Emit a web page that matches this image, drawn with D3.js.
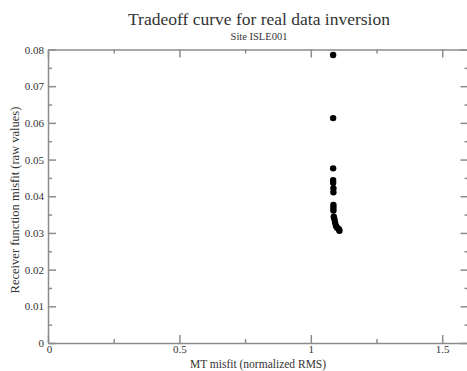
<!DOCTYPE html>
<html>
<head>
<meta charset="utf-8">
<script src="https://cdn.jsdelivr.net/npm/d3@7"></script>
<style>
  html, body { margin: 0; padding: 0; background: #fff; }
  svg { display: block; }
</style>
</head>
<body>
<svg id="chart" width="467" height="371"></svg>
<script>
// Tradeoff points: MT misfit (normalized RMS) vs receiver function misfit
const mtMisfit = [1.085, 1.085, 1.085, 1.085, 1.085, 1.086, 1.086, 1.086, 1.086, 1.086,
                  1.0875, 1.09, 1.0925, 1.096, 1.10, 1.107, 1.109];
const rfMisfit = [0.0785, 0.0613, 0.0476, 0.0444, 0.0437, 0.0422, 0.0411, 0.0376, 0.0369, 0.0361,
                  0.0344, 0.0337, 0.0328, 0.0319, 0.0314, 0.0310, 0.0306];
const xMajorTicks = [0, 0.5, 1, 1.5];
const xMinorTicks = [0.25, 0.75, 1.25];
const yMajorTicks = [0, 0.01, 0.02, 0.03, 0.04, 0.05, 0.06, 0.07, 0.08];
const yMinorTicks = [0.005, 0.015, 0.025, 0.035, 0.045, 0.055, 0.065, 0.075];

const serif = "'Liberation Serif', 'Times New Roman', Times, serif";
const svg = d3.select("#chart").attr("font-family", serif);
const plotLeft = 48, plotRight = 468.5, plotTop = 49.5, plotBottom = 343;
const axisColor = "#8c8c8c";
const textColor = "#333";

const x = d3.scaleLinear().domain([0, 1.6]).range([plotLeft, plotRight]);
const y = d3.scaleLinear().domain([0, 0.08]).range([plotBottom, plotTop]);

const fmt = d => (d === 0 ? "0" : String(d));

// Bottom axis, ticks pointing inward
const gx = svg.append("g").attr("transform", `translate(0,${plotBottom})`)
  .call(d3.axisBottom(x).tickValues(xMajorTicks).tickSizeInner(-8).tickSizeOuter(0).tickPadding(2).tickFormat(fmt));
gx.selectAll(".tick").filter(d => d === 0).select("text").attr("dx", 1);
const gxMinor = svg.append("g").attr("transform", `translate(0,${plotBottom})`)
  .call(d3.axisBottom(x).tickValues(xMinorTicks).tickSizeInner(-4).tickSizeOuter(0).tickFormat(""));
gxMinor.select(".domain").remove();

// Top axis
svg.append("g").attr("transform", `translate(0,${plotTop})`)
  .call(d3.axisTop(x).tickValues(xMajorTicks).tickSizeInner(-8).tickSizeOuter(0).tickFormat(""));
const gtMinor = svg.append("g").attr("transform", `translate(0,${plotTop})`)
  .call(d3.axisTop(x).tickValues(xMinorTicks).tickSizeInner(-4).tickSizeOuter(0).tickFormat(""));
gtMinor.select(".domain").remove();

// Left axis
svg.append("g").attr("transform", `translate(${plotLeft},0)`)
  .call(d3.axisLeft(y).tickValues(yMajorTicks).tickSizeInner(-8).tickSizeOuter(0).tickPadding(4).tickFormat(fmt));
const gyMinor = svg.append("g").attr("transform", `translate(${plotLeft},0)`)
  .call(d3.axisLeft(y).tickValues(yMinorTicks).tickSizeInner(-4).tickSizeOuter(0).tickFormat(""));
gyMinor.select(".domain").remove();

// Right axis
svg.append("g").attr("transform", `translate(${plotRight},0)`)
  .call(d3.axisRight(y).tickValues(yMajorTicks).tickSizeInner(-8).tickSizeOuter(0).tickFormat(""));
const grMinor = svg.append("g").attr("transform", `translate(${plotRight},0)`)
  .call(d3.axisRight(y).tickValues(yMinorTicks).tickSizeInner(-4).tickSizeOuter(0).tickFormat(""));
grMinor.select(".domain").remove();

svg.selectAll("g").attr("font-family", serif).attr("font-size", 11);
svg.selectAll(".domain, .tick line").attr("stroke", axisColor).attr("stroke-width", 1.5);
svg.selectAll(".tick text").attr("fill", textColor);

// Points
svg.append("g").selectAll("circle")
  .data(mtMisfit.map((v, i) => [v, rfMisfit[i]]))
  .join("circle")
  .attr("cx", d => x(d[0]))
  .attr("cy", d => y(d[1]))
  .attr("r", 3.2)
  .attr("fill", "#000");

// Titles
svg.append("text")
  .attr("x", 259).attr("y", 25)
  .attr("text-anchor", "middle")
  .attr("fill", textColor)
  .attr("font-size", 17.5)
  .text("Tradeoff curve for real data inversion");
svg.append("text")
  .attr("x", 259).attr("y", 40)
  .attr("text-anchor", "middle")
  .attr("fill", textColor)
  .attr("font-size", 10.5)
  .text("Site ISLE001");

svg.append("text")
  .attr("x", 258).attr("y", 368)
  .attr("text-anchor", "middle")
  .attr("fill", textColor)
  .attr("font-size", 11.5)
  .text("MT misfit (normalized RMS)");

svg.append("text")
  .attr("transform", `translate(19,200) rotate(-90)`)
  .attr("text-anchor", "middle")
  .attr("fill", textColor)
  .attr("font-size", 12.5)
  .text("Receiver function misfit (raw values)");
</script>
</body>
</html>
